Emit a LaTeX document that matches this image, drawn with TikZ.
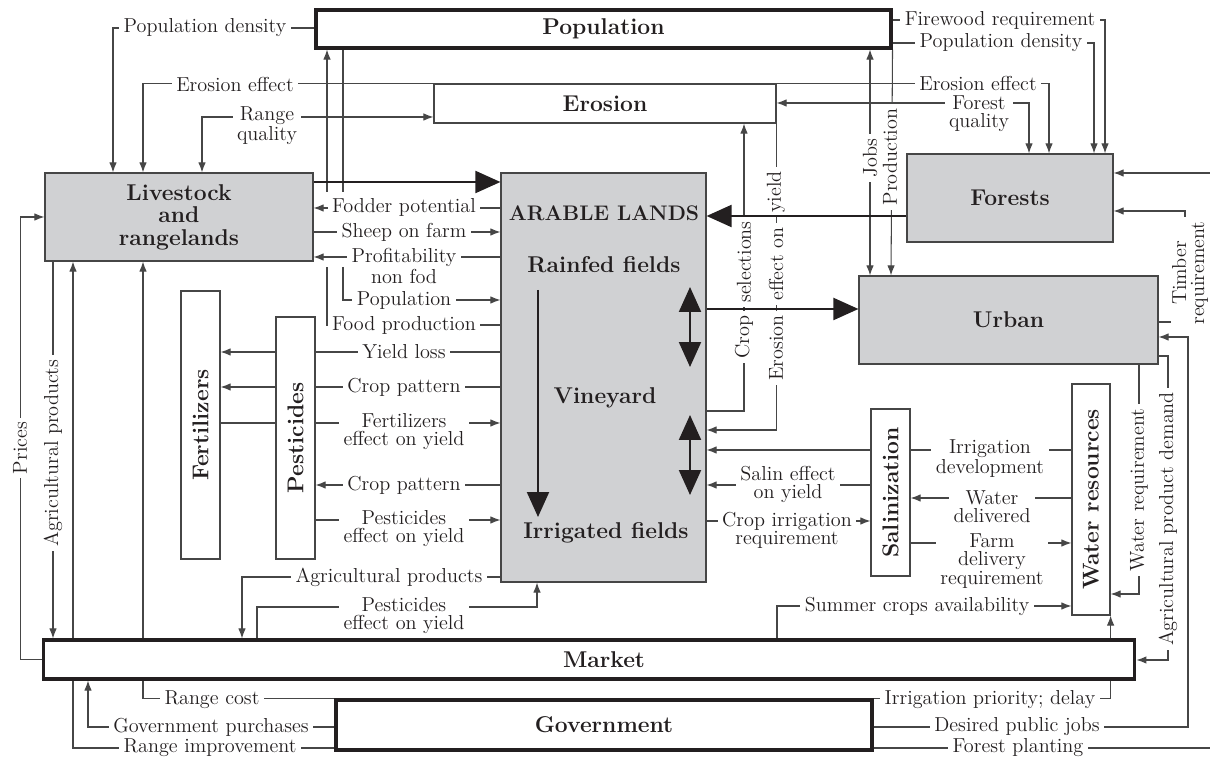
\documentclass[tikz,border=0pt]{standalone}
\usepackage{fontspec}
\usetikzlibrary{arrows.meta,backgrounds}

\definecolor{boxgray}{RGB}{208,209,211}
\definecolor{ink}{RGB}{35,31,32}
\definecolor{wire}{RGB}{70,70,70}
\newcommand{\lblfont}{\fontsize{11.5}{10.3}\selectfont}
\newcommand{\ttlfont}{\fontsize{13}{12.8}\selectfont\bfseries}

\begin{document}
\begin{tikzpicture}[
    x=0.02cm, y=-0.02cm,
    >={Latex[length=2mm,width=1.5mm]},
    box/.style={draw=wire, line width=0.7pt, fill=white, inner sep=0pt, font=\ttlfont, text=ink, align=center},
    gray box/.style={box, fill=boxgray},
    main box/.style={box, draw=ink, line width=1.8pt},
    ttl/.style={font=\ttlfont, text=ink, align=center},
    side title/.style={ttl, rotate=90},
    lbl/.style={font=\lblfont, text=ink, fill=white, inner xsep=2.5pt, inner ysep=0.5pt, align=center},
    side lbl/.style={lbl, rotate=90, inner ysep=0.3pt},
    link/.style={draw=wire, line width=0.6pt},
    flow/.style={draw=ink, line width=1.2pt, -{Triangle[length=5mm,width=4.4mm]}},
    swing/.style={draw=ink, line width=1.2pt, {Triangle[length=5mm,width=4.4mm]}-{Triangle[length=5mm,width=4.4mm]}}
]
\useasboundingbox (0,0) rectangle (1210,759);

% Boxes
\node[main box, minimum width=11.5cm, minimum height=0.76cm] (pop) at (603.5,29) {Population};
\node[box, minimum width=6.84cm, minimum height=0.78cm] (erosion) at (605,103.5) {Erosion};
\node[gray box, minimum width=5.36cm, minimum height=1.76cm] (livestock) at (179,217) {Livestock\\and\\rangelands};
\node[gray box, minimum width=4.1cm, minimum height=8.18cm] (arable) at (603.5,377.5) {};
\node[gray box, minimum width=4.12cm, minimum height=1.76cm] (forests) at (1010,198) {Forests};
\node[gray box, minimum width=5.98cm, minimum height=1.76cm] (urban) at (1008.5,320) {Urban};
\node[box, minimum width=0.78cm, minimum height=5.36cm, label={[side title]center:Fertilizers}] (fert) at (200.5,425) {};
\node[box, minimum width=0.78cm, minimum height=4.84cm, label={[side title]center:Pesticides}] (pest) at (295.5,438) {};
\node[box, minimum width=0.78cm, minimum height=3.34cm, label={[side title]center:Salinization}] (salin) at (890.5,492.5) {};
\node[box, minimum width=0.76cm, minimum height=4.62cm, label={[side title]center:Water resources}] (water) at (1091,499.5) {};
\node[main box, minimum width=21.84cm, minimum height=0.78cm, label={[ttl, xshift=0.3cm]center:Market}] (market) at (589,659.5) {};
\node[main box, minimum width=10.72cm, minimum height=1cm] (gov) at (604,725) {Government};

% Arable lands
\node[ttl, font=\fontsize{12}{12}\selectfont\bfseries] (arabletitle) at (604,213) {ARABLE LANDS};
\node[ttl] (rainfed) at (604,265) {Rainfed fields};
\node[ttl] (vineyard) at (605,398) {Vineyard};
\node[ttl] (irrigated) at (606,533) {Irrigated fields};
\coordinate (seqtop) at (538,290);
\coordinate (seqbot) at (538,517);
\coordinate (rainup) at (690,287);
\coordinate (raindn) at (690,367);
\coordinate (irrup) at (690,415);
\coordinate (irrdn) at (690,495);
\draw[flow] (seqtop) -- (seqbot);
\draw[swing] (rainup) -- (raindn);
\draw[swing] (irrup) -- (irrdn);

% Labels, top
\node[lbl] (popdensl) at (205,28) {Population density};
\node[lbl] (erosl) at (235,84) {Erosion effect};
\node[lbl] (rangeq) at (267,126) {Range\\quality};
\node[lbl] (firewood) at (1000,20) {Firewood requirement};
\node[lbl] (popdensr) at (1001,43) {Population density};
\node[lbl] (erosr) at (978,83) {Erosion effect};
\node[lbl] (forestq) at (979,114) {Forest\\quality};
\node[side lbl] (jobs) at (870,158) {Jobs};
\node[side lbl] (production) at (890,157) {Production};
\node[side lbl] (cropa) at (744,337) {Crop};
\node[side lbl] (cropb) at (744,262) {selections};
\node[side lbl] (erya) at (776,348) {Erosion};
\node[side lbl] (eryb) at (776,264) {effect on};
\node[side lbl] (eryc) at (776,192) {yield};

% Labels, left
\node[lbl] (fodder) at (404,207) {Fodder potential};
\node[lbl] (sheep) at (404,232) {Sheep on farm};
\node[lbl] (profit) at (404,266) {Profitability\\non fod};
\node[lbl] (popn) at (404,300) {Population};
\node[lbl] (food) at (404,325) {Food production};
\node[lbl] (yloss) at (404,352) {Yield loss};
\node[lbl] (cpat) at (404,387) {Crop pattern};
\node[lbl] (ferteff) at (404,432) {Fertilizers\\effect on yield};
\node[lbl] (cpatb) at (404,485) {Crop pattern};
\node[lbl] (pesteff) at (404,529) {Pesticides\\effect on yield};
\node[lbl] (agprod) at (389,577) {Agricultural products};
\node[lbl] (pesteffb) at (404,616) {Pesticides\\effect on yield};
\node[side lbl] (prices) at (20,448) {Prices};
\node[side lbl] (agprodl) at (53,453) {Agricultural products};

% Labels, bottom
\node[lbl] (rcost) at (212,700) {Range cost};
\node[lbl] (govpur) at (211,727) {Government purchases};
\node[lbl] (rimpr) at (210,748) {Range improvement};
\node[lbl] (irrprio) at (990,700) {Irrigation priority; delay};
\node[lbl] (pubjobs) at (1017,727) {Desired public jobs};
\node[lbl] (fplant) at (1018,748) {Forest planting};
\node[lbl] (summer) at (917,606) {Summer crops availability};

% Labels, right
\node[lbl] (irrdev) at (990,459) {Irrigation\\development};
\node[lbl] (salineff) at (788,484) {Salin effect\\on yield};
\node[lbl] (wdeliv) at (992,507) {Water\\delivered};
\node[lbl] (cropirr) at (787,530) {Crop irrigation\\requirement};
\node[lbl] (farmdel) at (992,561) {Farm\\delivery\\requirement};
\node[side lbl] (timber) at (1190,273) {Timber\\requirement};
\node[side lbl] (agdemand) at (1168,519) {Agricultural product demand};
\node[side lbl] (wreq) at (1139,490) {Water requirement};

% Main flows
\draw[flow] (livestock.east |- 0,182) -- (arable.west |- 0,182);
\draw[flow] (forests.west |- 0,216) -- (arable.east |- 0,216);
\draw[flow] (arable.east |- 0,309) -- (urban.west |- 0,309);

% Free ends
\coordinate (foodup) at (327,192);
\coordinate (foodlow) at (327,267);
\coordinate (popup) at (343,192);
\coordinate (poplow) at (343,267);
\coordinate (plantout) at (1210,748);
\coordinate (plantin) at (1210,173);

\begin{scope}[on background layer]
% Population and erosion links
\draw[link,->] (pop.west |- 0,28) -| (livestock.north -| 113,0);
\draw[link,->] (erosion.north west) -| (livestock.north -| 143,0);
\draw[link,<->] (erosion.west |- 0,117) -| (livestock.north -| 202,0);
\draw[link,->] (foodup) -- (pop.south -| foodup);
\draw[link] (arable.west |- 0,325) -| (foodlow);
\draw[link] (pop.south -| popup) -- (popup);
\draw[link,->] (poplow) |- (arable.west |- 0,300);

% Livestock and arable
\draw[link,->] (arable.west |- 0,208) -- (livestock.east |- 0,208);
\draw[link,->] (livestock.east |- 0,232) -- (arable.west |- 0,232);
\draw[link,->] (arable.west |- 0,257) -- (livestock.east |- 0,257);

% Fertilizers and pesticides
\draw[link,->] (arable.west |- 0,352) -- (fert.east |- 0,352);
\draw[link,->] (arable.west |- 0,387) -- (fert.east |- 0,387);
\draw[link,->] (fert.east |- 0,423) -- (arable.west |- 0,423);
\draw[link,->] (arable.west |- 0,485) -- (pest.east |- 0,485);
\draw[link,->] (pest.east |- 0,520) -- (arable.west |- 0,520);

% Market links
\draw[link,->] (arable.west |- 0,577) -| (market.north -| 242,0);
\draw[link,->] (market.north -| 257,0) |- (537,607) -- (arable.south -| 537,0);
\draw[link,->] (market.west) -- ++(-21,0) |- (livestock.west |- 0,217);
\draw[link,->] (livestock.south -| 53,0) -- (market.north -| 53,0);
\draw[link,->] (market.north -| 777,0) |- (water.west |- 0,606);

% Government links
\draw[link,->] (gov.north west) -| (livestock.south -| 143,0);
\draw[link,->] (gov.west |- 0,727) -| (market.south -| 88,0);
\draw[link,->] (gov.west |- 0,748) -| (livestock.south -| 73,0);
\draw[link,->] (gov.north east) -| (water.south east);
\draw[link,->] (gov.east |- 0,727) -- (1188,727) |- (urban.east |- 0,337);
\draw[link] (gov.east |- 0,748) -- (plantout);
\draw[link,->] (plantin) -- (forests.east |- 0,173);

% Urban links
\draw[link,->] (urban.east |- 0,322) -- (1185,322) |- (forests.east |- 0,211);
\draw[link,->] (urban.east |- 0,356) -- (1168,356) |- (market.east |- 0,660);
\draw[link,->] (urban.south -| 1139,0) |- (water.east |- 0,594);

% Water and salinization
\draw[link,->] (water.west |- 0,450) -- (arable.east |- 0,450);
\draw[link,->] (salin.west |- 0,485) -- (arable.east |- 0,485);
\draw[link,->] (water.west |- 0,498) -- (salin.east |- 0,498);
\draw[link,->] (arable.east |- 0,521) -- (salin.west |- 0,521);
\draw[link,->] (salin.east |- 0,543) -- (water.west |- 0,543);

% Erosion links
\draw[link,->] (arable.east |- 0,411) -| (erosion.south -| 744,0);
\draw[link,->] (erosion.south east) |- (arable.east |- 0,430);

% Forests and population links
\draw[link,->] (pop.east |- 0,20) -| (forests.north -| 1105,0);
\draw[link,->] (pop.east |- 0,43) -| (forests.north -| 1094,0);
\draw[link,->] (erosion.north east) -| (forests.north -| 1049,0);
\draw[link,<->] (erosion.east |- 0,103) -| (forests.north -| 1029,0);
\draw[link,<->] (urban.north -| 870,0) -- (pop.south -| 870,0);
\draw[link,->] (pop.south east) -- (urban.north -| 891,0);
\end{scope}

\end{tikzpicture}
\end{document}
